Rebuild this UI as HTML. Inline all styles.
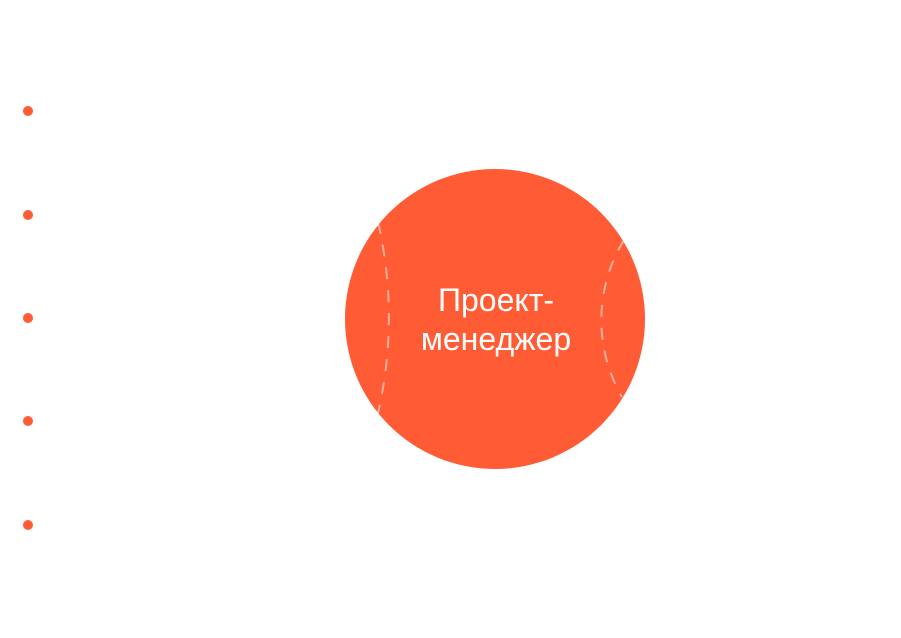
<!DOCTYPE html>
<html><head><meta charset="utf-8"><style>
html,body{margin:0;padding:0;background:#fff;width:901px;height:638px;overflow:hidden}
</style></head><body>
<svg width="901" height="638" viewBox="0 0 901 638" xmlns="http://www.w3.org/2000/svg">
<g fill="#ff5c35">
<circle cx="28" cy="111" r="5"/>
<circle cx="28" cy="215" r="5"/>
<circle cx="28" cy="318" r="5"/>
<circle cx="28" cy="421" r="5"/>
<circle cx="28" cy="525" r="5"/>
<circle cx="495" cy="319" r="150"/>
</g>
<g fill="none" stroke="#fff" stroke-opacity="0.5" stroke-width="2" stroke-dasharray="12 11">
<path d="M378 222 A424 424 0 0 1 378 413"/>
<path d="M624 240 A153 153 0 0 0 622 397"/>
</g>
<g fill="#fff" font-family="Liberation Sans, DejaVu Sans, sans-serif" font-size="32" text-anchor="middle">
<text x="496" y="311">Проект-</text>
<text x="496" y="350">менеджер</text>
</g>
</svg>
</body></html>
